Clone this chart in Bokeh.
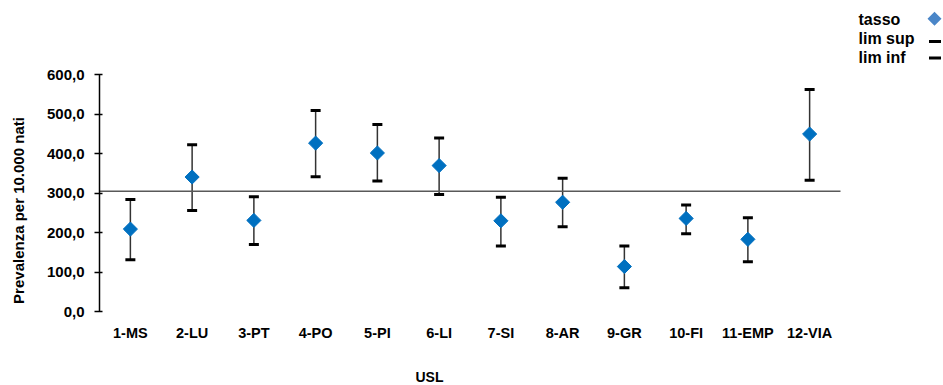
from math import pi

from bokeh.embed import file_html
from bokeh.models import (BoxAnnotation, ColumnDataSource, FixedTicker, Label,
                          PolyAnnotation, Range1d, TeeHead, Whisker)
from bokeh.plotting import figure
from bokeh.resources import INLINE

# Prevalence per 10,000 births by local health unit (USL), with confidence limits
usl = ["1-MS", "2-LU", "3-PT", "4-PO", "5-PI", "6-LI",
       "7-SI", "8-AR", "9-GR", "10-FI", "11-EMP", "12-VIA"]
tasso = [209, 341, 231, 427, 402, 370, 230, 277, 114, 236, 183, 450]
lim_sup = [284, 423, 291, 510, 474, 440, 290, 338, 166, 270, 238, 563]
lim_inf = [131, 256, 170, 342, 331, 297, 166, 215, 60, 197, 126, 333]
media_regionale = 305

y_ticks = [0, 100, 200, 300, 400, 500, 600]

W, H = 943, 385
LEFT, BOTTOM = 99, 74             # frame starts at x=99 and ends 74px above the bottom
PLOT_RIGHT, PLOT_TOP = 840, 74.4  # edge of the category band and pixel row of 600
FONT = "Liberation Sans"

n = len(usl)
xpos = [i + 0.5 for i in range(n)]
frame_w = W - LEFT
frame_h = H - BOTTOM
unit_x = (PLOT_RIGHT - LEFT) / n
y_top = 600 * frame_h / (frame_h - PLOT_TOP)


# helpers turning a page pixel position into plot coordinates (for titles and legend)
def dx(px):
    return (px - LEFT) / unit_x


def dy(py):
    return (frame_h - py) * y_top / frame_h


src = ColumnDataSource(dict(x=xpos, tasso=tasso, sup=lim_sup, inf=lim_inf))

p = figure(width=W, height=H, x_range=Range1d(0, frame_w / unit_x), y_range=Range1d(0, y_top),
           output_backend="svg", toolbar_location=None,
           min_border_left=LEFT, min_border_right=0, min_border_top=0, min_border_bottom=BOTTOM)
p.outline_line_color = None
p.grid.grid_line_color = None
p.background_fill_color = "white"
p.border_fill_color = "white"

# y axis: crossing ticks, comma decimal labels, line limited to 0-600
p.yaxis.ticker = FixedTicker(ticks=y_ticks)
p.yaxis.bounds = (0, 600)
p.yaxis.major_label_overrides = {t: f"{t},0" for t in y_ticks}
p.yaxis.minor_tick_line_color = None
p.yaxis.major_tick_in = 3
p.yaxis.major_tick_out = 5
p.yaxis.major_tick_line_width = 1.5
p.yaxis.axis_line_width = 1.5
p.yaxis.axis_line_color = "black"
p.yaxis.major_tick_line_color = "black"
p.yaxis.major_label_standoff = 10
p.yaxis.major_label_text_font = FONT
p.yaxis.major_label_text_font_style = "bold"
p.yaxis.major_label_text_font_size = "15px"
p.yaxis.major_label_text_color = "black"

# x axis: category names only
p.xaxis.ticker = FixedTicker(ticks=xpos)
p.xaxis.major_label_overrides = dict(zip(xpos, usl))
p.xaxis.axis_line_color = None
p.xaxis.major_tick_line_color = None
p.xaxis.minor_tick_line_color = None
p.xaxis.major_tick_in = 0
p.xaxis.major_tick_out = 0
p.xaxis.major_label_standoff = 13
p.xaxis.major_label_text_font = FONT
p.xaxis.major_label_text_font_style = "bold"
p.xaxis.major_label_text_font_size = "14.5px"
p.xaxis.major_label_text_color = "black"

# regional reference line across the category band
p.segment(x0=0, x1=n, y0=media_regionale, y1=media_regionale,
          line_color="#595959", line_width=1.5)

# confidence interval whiskers
head_kw = dict(size=10, line_width=3, line_color="black")
p.add_layout(Whisker(base="x", upper="sup", lower="inf", source=src,
                     dimension="height", line_color="#333333", line_width=1.5,
                     upper_head=TeeHead(**head_kw), lower_head=TeeHead(**head_kw)))

# point estimates as diamonds
p.scatter(x="x", y="tasso", source=src, marker="square", size=10, angle=pi / 4,
          fill_color="#0070C0", line_color="#0070C0")

label_kw = dict(text_font=FONT, text_font_style="bold", text_color="black",
                text_baseline="middle")

# axis titles, placed in the side panels so they are not clipped by the frame
p.add_layout(Label(x=dx(18), y=dy(210), text="Prevalenza per 10.000 nati", angle=pi / 2,
                   text_align="center", text_font_size="15px", **label_kw), "left")
p.add_layout(Label(x=dx(429), y=dy(376), text="USL", text_align="center",
                   text_font_size="14px", **label_kw), "below")

# legend, text on the left and symbol on the right
legend_rows = [("tasso", 18.5), ("lim sup", 37.5), ("lim inf", 56.5)]
for txt, yc in legend_rows:
    p.add_layout(Label(x=dx(858), y=dy(yc), text=txt, text_align="left",
                       text_font_size="16px", **label_kw))
cx, cy, r = 934, 18.3, 7
p.add_layout(PolyAnnotation(xs=[dx(cx), dx(cx + r), dx(cx), dx(cx - r)],
                            ys=[dy(cy - r), dy(cy), dy(cy + r), dy(cy)],
                            fill_color="#4A86C8", fill_alpha=1, line_color=None))
for yc in (41, 57.5):
    p.add_layout(BoxAnnotation(left=dx(928.5), right=dx(940.5), top=dy(yc - 1.6), bottom=dy(yc + 1.6),
                               fill_color="black", fill_alpha=1, line_color=None))

open("out.html", "w").write(file_html(p, INLINE))
